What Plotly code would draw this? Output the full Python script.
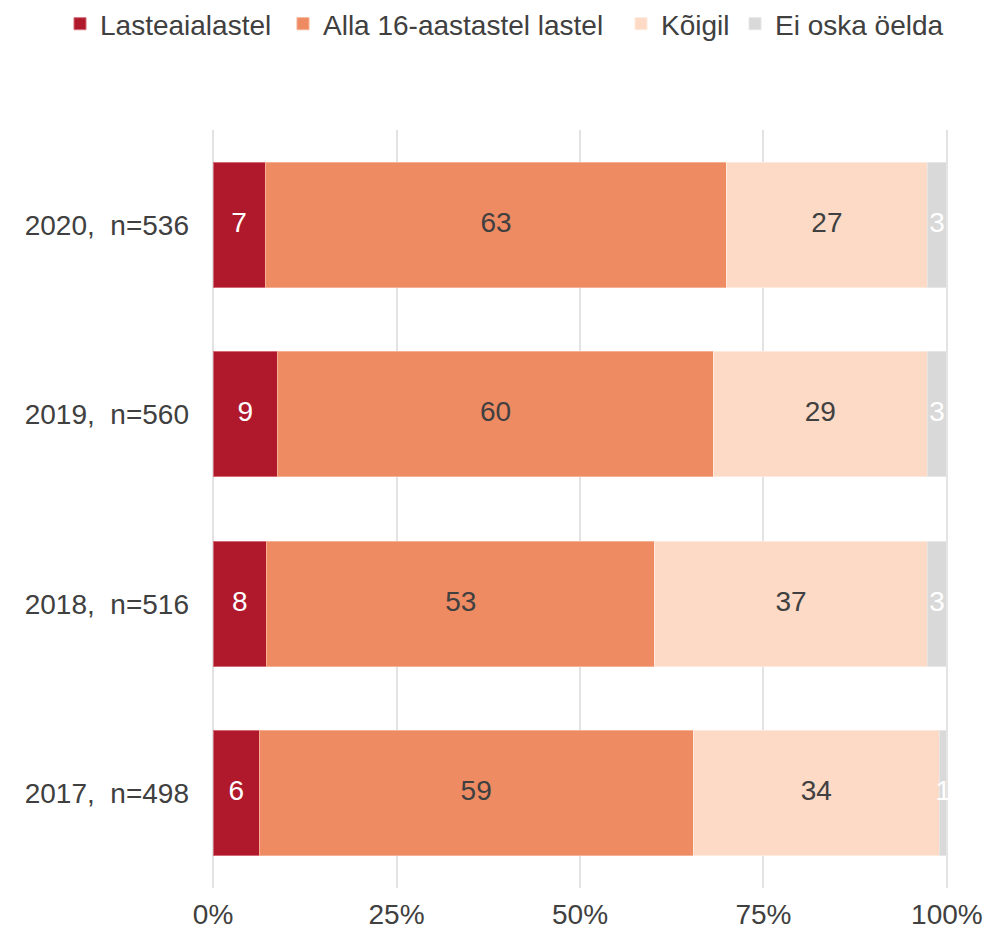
import plotly.graph_objects as go

categories = ["2017,\u00a0 n=498", "2018,\u00a0 n=516", "2019,\u00a0 n=560", "2020,\u00a0 n=536"]
series_names = ["Lasteaialastel", "Alla 16-aastastel lastel", "Kõigil", "Ei oska öelda"]
# bar shares (percent)
lasteaia = [6.3, 7.3, 8.8, 7.1]
alla16 = [59.1, 52.9, 59.4, 62.9]
koigil = [33.6, 37.1, 29.1, 27.3]
ei_oska = [1.0, 2.7, 2.7, 2.7]
# printed labels
lasteaia_lbl = ["6", "8", "9", "7"]
alla16_lbl = ["59", "53", "60", "63"]
koigil_lbl = ["34", "37", "29", "27"]
ei_oska_lbl = ["1", "3", "3", "3"]
tick_vals = [0, 25, 50, 75, 100]
tick_text = ["0%", "25%", "50%", "75%", "100%"]

FONT = "Liberation Sans, Arial, Helvetica, sans-serif"
colors = ["#B0182C", "#EF8B63", "#FDDAC6", "#D9D9D9"]
text_colors = ["white", "#404040", "#404040", "white"]
outline = ["#D46A76", "#F5B093", "#FEE9DD", "#E6E6E6"]

values = [lasteaia, alla16, koigil, ei_oska]
labels = [lasteaia_lbl, alla16_lbl, koigil_lbl, ei_oska_lbl]

W, H = 991, 921
legend_ids = ["legend", "legend2", "legend3", "legend4"]
legend_left_px = [60, 283, 621, 735]  # page x of each legend entry

fig = go.Figure()
for name, vals, c, oc, lid in zip(series_names, values, colors, outline, legend_ids):
    fig.add_trace(go.Bar(
        y=categories, x=vals, name=name, orientation="h",
        marker=dict(color=c, line=dict(color=oc, width=1)),
        hoverinfo="skip", legend=lid,
    ))

# segment labels centred in each segment (positions derived from the data)
base = [0.0] * len(categories)
for vals, lbl, tc in zip(values, labels, text_colors):
    mids = [b + v / 2 for b, v in zip(base, vals)]
    fig.add_trace(go.Scatter(
        x=mids, y=categories, mode="text", text=lbl,
        textposition="middle center",
        textfont=dict(color=tc, size=28, family=FONT),
        showlegend=False, hoverinfo="skip", cliponaxis=False,
    ))
    base = [b + v for b, v in zip(base, vals)]

legend_layout = {}
for lid, px in zip(legend_ids, legend_left_px):
    legend_layout[lid] = dict(
        orientation="h", xref="container", x=(px - 8) / W, xanchor="left",
        yref="container", y=1 - (24 - 8) / H, yanchor="middle",
        font=dict(size=28, color="#404040", family=FONT), itemwidth=30,
        bgcolor="rgba(0,0,0,0)", borderwidth=0,
    )

fig.update_layout(
    barmode="stack",
    bargap=0.34,
    width=W, height=H,
    margin=dict(l=204, r=51, t=122, b=41, autoexpand=False),
    plot_bgcolor="white", paper_bgcolor="white",
    font=dict(family=FONT, size=28, color="#404040"),
    xaxis=dict(range=[-0.15, 100.15], tickvals=tick_vals, ticktext=tick_text,
               showgrid=True, gridcolor="#E3E3E3", gridwidth=2, zeroline=False,
               showline=False, ticks="", ticklabelstandoff=7, fixedrange=True,
               automargin=False),
    yaxis=dict(showgrid=False, ticks="", ticklabelstandoff=22, fixedrange=True,
               automargin=False),
    showlegend=True,
    **legend_layout,
)

fig.write_html("out.html")
